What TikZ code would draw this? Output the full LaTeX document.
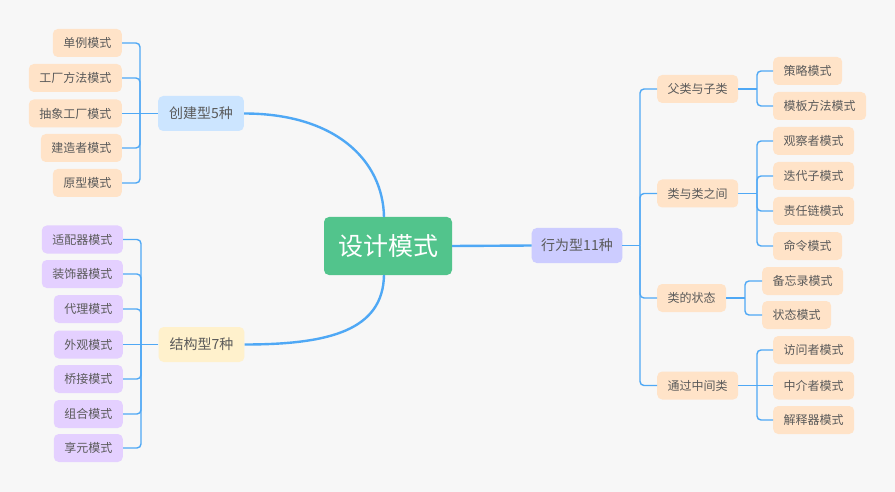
\documentclass[tikz,border=0pt]{standalone}
\usepackage{fontspec}
\setmainfont{Noto Sans CJK SC}
\begin{document}
\definecolor{bgc}{HTML}{F7F7F7}
\definecolor{linec}{HTML}{4FA8F5}
\definecolor{txtc}{HTML}{5A5A5A}
\definecolor{rootc}{HTML}{52C48C}
\definecolor{peach}{HTML}{FFE3C8}
\definecolor{lilac}{HTML}{E4D0FF}
\definecolor{skyc}{HTML}{CCE5FF}
\definecolor{creamc}{HTML}{FFF1CC}
\definecolor{lavc}{HTML}{CCCCFF}
\begin{tikzpicture}[x=1pt,y=-1pt,
  box/.style={rounded corners=5pt, text=txtc, inner ysep=0pt, minimum height=28pt,
    inner xsep=10.5pt, font=\fontsize{12}{14}\selectfont},
  leafo/.style={box, fill=peach},
  leafp/.style={box, fill=lilac},
  midbox/.style={box, minimum height=35pt, inner xsep=11pt, font=\fontsize{14}{16}\selectfont},
  rootbox/.style={rounded corners=5pt, fill=rootc, text=white, minimum width=128pt,
    minimum height=58pt, font=\fontsize{25}{28}\selectfont},
  link/.style={draw=linec, line width=1.4pt, rounded corners=4pt},
  thick link/.style={draw=linec, line width=2.4pt}]
\useasboundingbox (0,0) rectangle (895,492);
\fill[bgc] (0,0) rectangle (895,492);

% root and first level
\node[rootbox] (root) at (388,246) {设计模式};
\node[midbox, fill=skyc] (cre) at (201,113.5) {创建型5种};
\node[midbox, fill=creamc] (str) at (201.5,344.5) {结构型7种};
\node[midbox, fill=lavc, inner xsep=9.5pt] (beh) at (577,245.5) {行为型11种};

% creational patterns
\node[leafo, anchor=east] (c1) at (122,43) {单例模式};
\node[leafo, anchor=east] (c2) at (122,78) {工厂方法模式};
\node[leafo, anchor=east] (c3) at (122,113.5) {抽象工厂模式};
\node[leafo, anchor=east] (c4) at (122,148) {建造者模式};
\node[leafo, anchor=east] (c5) at (122,183) {原型模式};

% structural patterns
\node[leafp, anchor=east] (t1) at (123,239.5) {适配器模式};
\node[leafp, anchor=east] (t2) at (123,274) {装饰器模式};
\node[leafp, anchor=east] (t3) at (123,309) {代理模式};
\node[leafp, anchor=east] (t4) at (123,344.5) {外观模式};
\node[leafp, anchor=east] (t5) at (123,379) {桥接模式};
\node[leafp, anchor=east] (t6) at (123,414) {组合模式};
\node[leafp, anchor=east] (t7) at (123,448) {享元模式};

% behavioural groups
\node[leafo, anchor=west] (g1) at (657,89) {父类与子类};
\node[leafo, anchor=west] (g2) at (657,193.5) {类与类之间};
\node[leafo, anchor=west] (g3) at (657,298) {类的状态};
\node[leafo, anchor=west] (g4) at (657,385.5) {通过中间类};

% behavioural patterns
\node[leafo, anchor=west] (b1) at (773,71) {策略模式};
\node[leafo, anchor=west] (b2) at (773,106) {模板方法模式};
\node[leafo, anchor=west] (b3) at (773,141) {观察者模式};
\node[leafo, anchor=west] (b4) at (773,176) {迭代子模式};
\node[leafo, anchor=west] (b5) at (773,211) {责任链模式};
\node[leafo, anchor=west] (b6) at (773,246) {命令模式};
\node[leafo, anchor=west] (b7) at (762,281) {备忘录模式};
\node[leafo, anchor=west] (b8) at (762,315) {状态模式};
\node[leafo, anchor=west] (b9) at (773,350) {访问者模式};
\node[leafo, anchor=west] (b10) at (773,385.5) {中介者模式};
\node[leafo, anchor=west] (b11) at (773,420) {解释器模式};

% bracket junctions
\coordinate (jc) at (140,113.5);
\coordinate (js) at (141,344.5);
\coordinate (jb) at (640,245.5);
\coordinate (j1) at (757,89);
\coordinate (j2) at (757,193.5);
\coordinate (j3) at (745,298);
\coordinate (j4) at (757,385.5);

% root connections
\draw[thick link] (root.east) -- (beh.west);
\draw[thick link] (cre.east) .. controls (335,113.5) and (383,160) .. (384,217);
\draw[thick link] (384,275) .. controls (383,330) and (330,344.5) .. (str.east);

% creational bracket
\draw[link] (cre.west) -- (c3.east);
\foreach \n in {c1,c2,c4,c5} \draw[link] (jc) |- (\n.east);

% structural bracket
\draw[link] (str.west) -- (t4.east);
\foreach \n in {t1,t2,t3,t5,t6,t7} \draw[link] (js) |- (\n.east);

% behavioural bracket
\draw[link] (beh.east) -- (jb);
\foreach \n in {g1,g2,g3,g4} \draw[link] (jb) |- (\n.west);

\draw[link] (g1.east) -- (j1);
\foreach \n in {b1,b2} \draw[link] (j1) |- (\n.west);
\draw[link] (g2.east) -- (j2);
\foreach \n in {b3,b4,b5,b6} \draw[link] (j2) |- (\n.west);
\draw[link] (g3.east) -- (j3);
\foreach \n in {b7,b8} \draw[link] (j3) |- (\n.west);
\draw[link] (g4.east) -- (b10.west);
\foreach \n in {b9,b11} \draw[link] (j4) |- (\n.west);
\end{tikzpicture}
\end{document}
